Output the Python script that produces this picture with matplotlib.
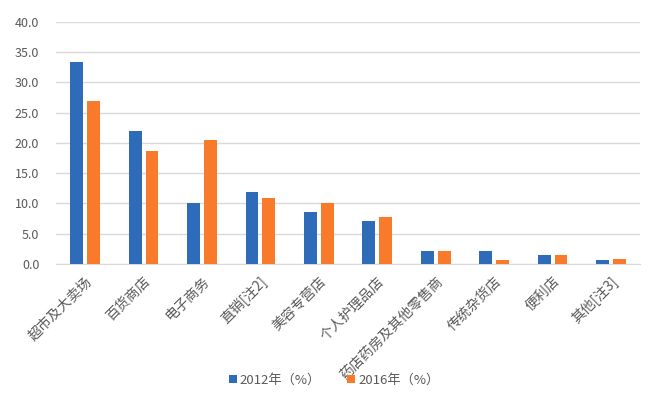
import matplotlib.pyplot as plt
import matplotlib.transforms as mtransforms
import numpy as np

plt.rcParams['font.family'] = ['Noto Sans CJK SC', 'DejaVu Sans']

categories = ['超市及大卖场', '百货商店', '电子商务', '直销[注2]', '美容专营店',
              '个人护理品店', '药店药房及其他零售商', '传统杂货店', '便利店', '其他[注3]']
share_2012 = [33.3, 22.0, 10.1, 11.9, 8.5, 7.1, 2.1, 2.1, 1.5, 0.6]
share_2016 = [27.0, 18.6, 20.5, 10.9, 10.1, 7.7, 2.1, 0.7, 1.5, 0.8]
yticks = [0, 5, 10, 15, 20, 25, 30, 35, 40]

blue = '#2E6CBA'
orange = '#F97A2A'
grey = '#595959'

fig = plt.figure(figsize=(6.58, 3.98), dpi=100)
ax = fig.add_axes([0.085, 0.337, 0.888, 0.608])

x = np.arange(len(categories))
w = 0.22
off = 0.145
ax.bar(x - off, share_2012, w, color=blue, label='2012年（%）', zorder=3)
ax.bar(x + off, share_2016, w, color=orange, label='2016年（%）', zorder=3)

ax.set_xlim(-0.5, len(categories) - 0.5)
ax.set_ylim(0, 40)
ax.set_yticks(yticks)
ax.set_yticklabels([f'{v:.1f}' for v in yticks], color=grey, fontsize=9)
ax.yaxis.grid(True, color='#D9D9D9', linewidth=1, zorder=0)
ax.tick_params(axis='both', length=0)
ax.tick_params(axis='y', pad=12)
ax.tick_params(axis='x', pad=11)

ax.set_xticks(x)
ax.set_xticklabels(categories, rotation=45, ha='right', va='center',
                   rotation_mode='anchor', color=grey, fontsize=10)
# nudge labels a little to the right, like the original
shift = mtransforms.ScaledTranslation(0.045, 0, fig.dpi_scale_trans)
for lbl in ax.get_xticklabels():
    lbl.set_transform(lbl.get_transform() + shift)

for s in ['top', 'right', 'left']:
    ax.spines[s].set_visible(False)
ax.spines['bottom'].set_color('#D9D9D9')

leg = fig.legend(loc='center', bbox_to_anchor=(0.508, 0.045), ncol=2, frameon=False,
                 fontsize=9.5, handlelength=0.6, handleheight=0.6, handletextpad=0.2,
                 columnspacing=2.0)
for t in leg.get_texts():
    t.set_color(grey)

fig.savefig('out.png', dpi=100)
